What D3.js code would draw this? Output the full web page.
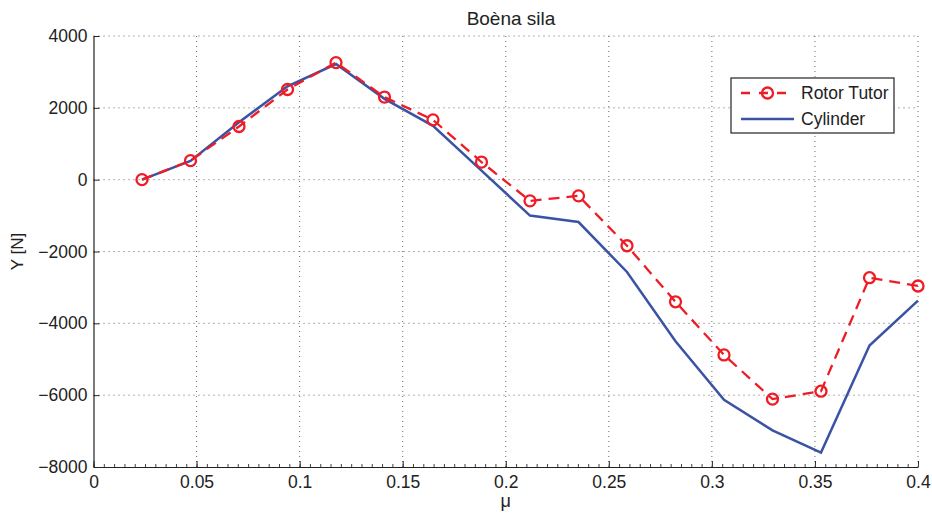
<!DOCTYPE html>
<html><head><meta charset="utf-8">
<script src="https://cdn.jsdelivr.net/npm/d3@7"></script>
<style>
body{margin:0;background:#fff;}
svg{display:block;font-family:"Liberation Sans",Arial,Helvetica,sans-serif;}
</style></head>
<body><svg id="c" width="932" height="513"></svg>
<script>
const muValues = d3.range(1,18).map(k => 0.4*k/17);
const rotorTutor = [0, 530, 1480, 2510, 3260, 2300, 1665, 490, -590, -450, -1840, -3400, -4880, -6110, -5890, -2730, -2960];
const cylinder = [0, 520, 1600, 2600, 3220, 2250, 1500, 250, -1000, -1180, -2570, -4500, -6130, -6980, -7600, -4620, -3370];
const xTicks = [0,0.05,0.1,0.15,0.2,0.25,0.3,0.35,0.4];
const xTickLabels = ["0","0.05","0.1","0.15","0.2","0.25","0.3","0.35","0.4"];
const yTicks = [-8000,-6000,-4000,-2000,0,2000,4000];
const yTickLabels = ["\u22128000","\u22126000","\u22124000","\u22122000","0","2000","4000"];
const seriesNames = ["Rotor Tutor","Cylinder"];
const titleText = "Boèna sila";
const xLabel = "\u03bc";
const yLabel = "Y [N]";

const svg = d3.select("#c");
const L=93.5, R=918, T=36, B=467;
const FS = 17.5;
const x = d3.scaleLinear().domain([0,0.4]).range([L,R]);
const y = d3.scaleLinear().domain([-8000,4000]).range([B,T]);

// grid
const g = svg.append("g");
xTicks.slice(1).forEach(v=>{
  g.append("line").attr("x1",x(v)).attr("x2",x(v)).attr("y1",T).attr("y2",B)
   .attr("stroke","#666").attr("stroke-width",1).attr("stroke-dasharray","1,4");
});
yTicks.slice(1).forEach(v=>{
  g.append("line").attr("x1",L).attr("x2",R).attr("y1",y(v)).attr("y2",y(v))
   .attr("stroke","#666").attr("stroke-width",1).attr("stroke-dasharray","1,4");
});

// axes
const xAxis = d3.axisBottom(x).tickValues(xTicks).tickFormat((d,i)=>xTickLabels[i]).tickSizeInner(-6).tickSizeOuter(0).tickPadding(9);
const xa = svg.append("g").attr("transform",`translate(0,${B})`).call(xAxis);
const xMinor = d3.axisBottom(x).tickValues(d3.range(0,0.4001,0.005)).tickFormat("").tickSizeInner(-3).tickSizeOuter(0);
const xm = svg.append("g").attr("transform",`translate(0,${B})`).call(xMinor);
xm.select(".domain").remove();
xm.selectAll("line").attr("stroke","#444");
const yAxis = d3.axisLeft(y).tickValues(yTicks).tickFormat((d,i)=>yTickLabels[i]).tickSizeInner(-6).tickSizeOuter(0).tickPadding(6);
const ya = svg.append("g").attr("transform",`translate(${L},0)`).call(yAxis);
[xa,ya].forEach(a=>{
  a.selectAll("text").attr("font-size",FS).attr("fill","#222").attr("font-family","Liberation Sans, Arial, sans-serif");
  a.selectAll("line").attr("stroke","#222");
  a.select(".domain").attr("stroke","#222").attr("stroke-width",1.2);
});
xa.selectAll("text").attr("dy","0.71em");

// lines
const line = d3.line().x((d,i)=>x(muValues[i])).y(d=>y(d));
svg.append("path").datum(cylinder).attr("d",line).attr("fill","none")
  .attr("stroke","#3a53a4").attr("stroke-width",2.5).attr("stroke-linejoin","miter");
svg.append("path").datum(rotorTutor).attr("d",line).attr("fill","none")
  .attr("stroke","#ee1c25").attr("stroke-width",2.3).attr("stroke-dasharray","11,7");
svg.append("g").selectAll("circle").data(rotorTutor).join("circle")
  .attr("cx",(d,i)=>x(muValues[i])).attr("cy",d=>y(d)).attr("r",5.5)
  .attr("fill","none").attr("stroke","#ee1c25").attr("stroke-width",2.3);

// title and labels
svg.append("text").attr("x",511).attr("y",25).attr("text-anchor","middle")
  .attr("font-size",19).attr("fill","#222").text(titleText);
svg.append("text").attr("x",(L+R)/2).attr("y",507).attr("text-anchor","middle")
  .attr("font-size",18).attr("fill","#222").text(xLabel);
svg.append("text").attr("transform",`translate(23,${(T+B)/2}) rotate(-90)`).attr("text-anchor","middle")
  .attr("font-size",17).attr("fill","#222").text(yLabel);

// legend
const lg = svg.append("g");
lg.append("rect").attr("x",731).attr("y",78).attr("width",163).attr("height",55)
  .attr("fill","#fff").attr("stroke","#222").attr("stroke-width",1.2);
lg.append("line").attr("x1",741).attr("x2",794).attr("y1",93).attr("y2",93)
  .attr("stroke","#ee1c25").attr("stroke-width",2.3).attr("stroke-dasharray","9,9");
lg.append("circle").attr("cx",767.5).attr("cy",93).attr("r",5.5).attr("fill","none")
  .attr("stroke","#ee1c25").attr("stroke-width",2.3);
lg.append("line").attr("x1",741).attr("x2",794).attr("y1",119).attr("y2",119)
  .attr("stroke","#3a53a4").attr("stroke-width",2.5);
lg.selectAll("text.l").data(seriesNames).join("text").attr("class","l")
  .attr("x",801).attr("y",(d,i)=>93+i*26).attr("dy","0.35em")
  .attr("font-size",FS).attr("fill","#222").text(d=>d);
</script></body></html>
